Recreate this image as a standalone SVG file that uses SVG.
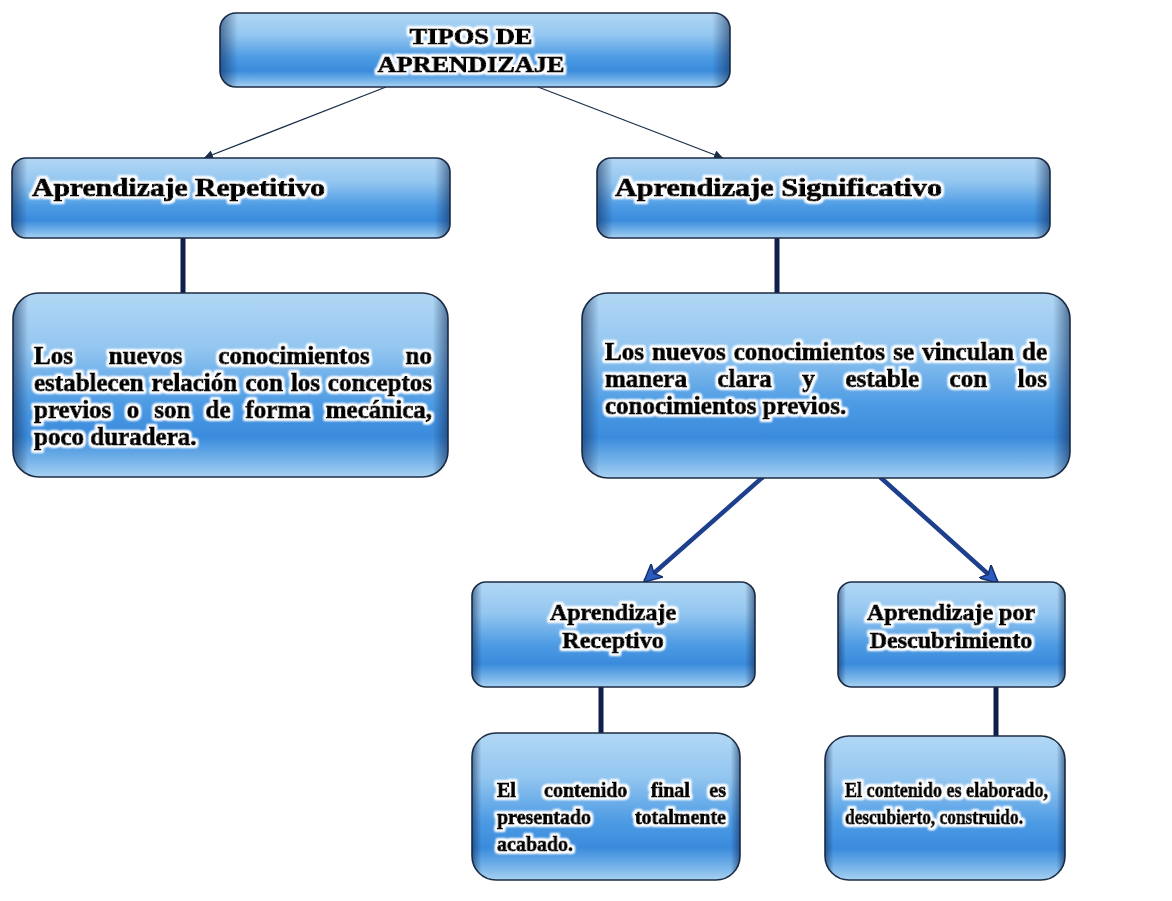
<svg xmlns="http://www.w3.org/2000/svg" width="1172" height="901" viewBox="0 0 1172 901">
<defs>
<linearGradient id="gv" x1="0" y1="0" x2="0" y2="1">
<stop offset="0" stop-color="#b2d7f4"/>
<stop offset="0.3" stop-color="#93c6f0"/>
<stop offset="0.6" stop-color="#4d9be4"/>
<stop offset="0.78" stop-color="#3a8bdc"/>
<stop offset="0.92" stop-color="#7ab6ea"/>
<stop offset="1" stop-color="#a8d1f2"/>
</linearGradient>
<linearGradient id="gh" x1="0" y1="0" x2="1" y2="0">
<stop offset="0" stop-color="#0d2550" stop-opacity="0.55"/>
<stop offset="0.035" stop-color="#0d2550" stop-opacity="0"/>
<stop offset="0.965" stop-color="#0d2550" stop-opacity="0"/>
<stop offset="1" stop-color="#0d2550" stop-opacity="0.55"/>
</linearGradient>
<filter id="glow" x="-10%" y="-40%" width="120%" height="180%">
<feMorphology in="SourceAlpha" operator="dilate" radius="1.6" result="d"/>
<feGaussianBlur in="d" stdDeviation="1.3" result="b"/>
<feFlood flood-color="#ffffff"/>
<feComposite in2="b" operator="in" result="w"/>
<feMerge><feMergeNode in="w"/><feMergeNode in="w"/><feMergeNode in="SourceGraphic"/></feMerge>
</filter>
<marker id="thin" viewBox="0 0 10 10" refX="10" refY="5" markerWidth="9" markerHeight="9" markerUnits="userSpaceOnUse" orient="auto">
<path d="M0,0 L10,5 L0,10 z" fill="#1b2f4a"/>
</marker>
<marker id="thick" viewBox="0 0 10 10" refX="9" refY="5" markerWidth="18" markerHeight="18" markerUnits="userSpaceOnUse" orient="auto">
<path d="M0,0 L10,5 L0,10 L2.5,5 z" fill="#2a5cc0" stroke="#16306e" stroke-width="0.8"/>
</marker>
<style>
.box{fill:url(#gv);stroke:#1c2d44;stroke-width:1.6}
.edge{fill:url(#gh);stroke:none}
.t{font-family:"Liberation Serif","Times New Roman",serif;font-weight:bold;fill:#000;stroke:#000;stroke-width:1;filter:url(#glow)}
.ti{font-size:26px}
.top{font-size:23px}
.d{font-size:25px}
.s{font-size:20px}
.thin{stroke:#1b2f4a;stroke-width:1.3;fill:none}
.vert{stroke:#0f1f4c;stroke-width:5;fill:none}
.diag{stroke:#1d3f8c;stroke-width:4.5;fill:none}
</style>
</defs>
<rect width="1172" height="901" fill="#ffffff"/>

<g id="connectors">
<line class="thin" x1="386" y1="87" x2="204" y2="158" marker-end="url(#thin)"/>
<line class="thin" x1="538" y1="87" x2="723" y2="158" marker-end="url(#thin)"/>
<line class="vert" x1="183" y1="238" x2="183" y2="293"/>
<line class="vert" x1="777" y1="238" x2="777" y2="293"/>
<line class="diag" x1="763" y1="477" x2="645" y2="581" marker-end="url(#thick)"/>
<line class="diag" x1="880" y1="477" x2="997" y2="582" marker-end="url(#thick)"/>
<line class="vert" x1="601" y1="687" x2="601" y2="733"/>
<line class="vert" x1="996" y1="687" x2="996" y2="736"/>
</g>

<g id="n-tipos">
<rect class="box" x="220" y="13" width="510" height="74" rx="16"/>
<rect class="edge" x="220" y="13" width="510" height="74" rx="16"/>
<text class="t top" x="471" y="44" text-anchor="middle" textLength="123" lengthAdjust="spacingAndGlyphs">TIPOS DE</text>
<text class="t top" x="471" y="72" text-anchor="middle" textLength="187" lengthAdjust="spacingAndGlyphs">APRENDIZAJE</text>
</g>

<g id="n-repetitivo">
<rect class="box" x="12" y="158" width="438" height="80" rx="14"/>
<rect class="edge" x="12" y="158" width="438" height="80" rx="14"/>
<text class="t ti" x="32" y="196" textLength="293" lengthAdjust="spacingAndGlyphs">Aprendizaje Repetitivo</text>
</g>

<g id="n-significativo">
<rect class="box" x="597" y="158" width="453" height="80" rx="14"/>
<rect class="edge" x="597" y="158" width="453" height="80" rx="14"/>
<text class="t ti" x="615" y="196" textLength="327" lengthAdjust="spacingAndGlyphs">Aprendizaje Significativo</text>
</g>

<g id="n-desc-repetitivo">
<rect class="box" x="13" y="293" width="435" height="184" rx="26"/>
<rect class="edge" x="13" y="293" width="435" height="184" rx="26"/>
<g class="t d">
<text x="34" y="364">Los</text><text x="108.8" y="364">nuevos</text><text x="218.3" y="364">conocimientos</text><text x="432" y="364" text-anchor="end">no</text>
<text x="34" y="391">establecen</text><text x="151.5" y="391">relación</text><text x="245.5" y="391">con</text><text x="290.9" y="391">los</text><text x="432" y="391" text-anchor="end">conceptos</text>
<text x="34" y="418">previos</text><text x="126.8" y="418">o</text><text x="154.3" y="418">son</text><text x="205.5" y="418">de</text><text x="245.5" y="418">forma</text><text x="432" y="418" text-anchor="end">mecánica,</text>
<text x="34" y="445">poco duradera.</text>
</g>
</g>

<g id="n-desc-significativo">
<rect class="box" x="582" y="293" width="488" height="185" rx="26"/>
<rect class="edge" x="582" y="293" width="488" height="185" rx="26"/>
<g class="t d">
<text x="605" y="360">Los</text><text x="652" y="360">nuevos</text><text x="733.7" y="360">conocimientos</text><text x="893.2" y="360">se</text><text x="922.2" y="360">vinculan</text><text x="1047" y="360" text-anchor="end">de</text>
<text x="605" y="387">manera</text><text x="717.5" y="387">clara</text><text x="802.3" y="387">y</text><text x="845.4" y="387">estable</text><text x="949.6" y="387">con</text><text x="1047" y="387" text-anchor="end">los</text>
<text x="605" y="414">conocimientos previos.</text>
</g>
</g>

<g id="n-receptivo">
<rect class="box" x="472" y="582" width="283" height="105" rx="14"/>
<rect class="edge" x="472" y="582" width="283" height="105" rx="14"/>
<text class="t" style="font-size:24px" x="613" y="620" text-anchor="middle">Aprendizaje</text>
<text class="t" style="font-size:24px" x="613" y="648" text-anchor="middle">Receptivo</text>
</g>

<g id="n-descubrimiento">
<rect class="box" x="838" y="582" width="227" height="105" rx="14"/>
<rect class="edge" x="838" y="582" width="227" height="105" rx="14"/>
<text class="t" style="font-size:24px" x="951" y="620" text-anchor="middle">Aprendizaje por</text>
<text class="t" style="font-size:24px" x="951" y="648" text-anchor="middle">Descubrimiento</text>
</g>

<g id="n-desc-receptivo">
<rect class="box" x="472" y="733" width="268" height="147" rx="24"/>
<rect class="edge" x="472" y="733" width="268" height="147" rx="24"/>
<g class="t s">
<text x="497" y="797">El</text><text x="544" y="797">contenido</text><text x="651" y="797">final</text><text x="726" y="797" text-anchor="end">es</text>
<text x="497" y="824">presentado</text><text x="726" y="824" text-anchor="end">totalmente</text>
<text x="497" y="851">acabado.</text>
</g>
</g>

<g id="n-desc-descubrimiento">
<rect class="box" x="825" y="736" width="240" height="144" rx="24"/>
<rect class="edge" x="825" y="736" width="240" height="144" rx="24"/>
<g class="t s">
<text x="845" y="797" textLength="203" lengthAdjust="spacingAndGlyphs">El contenido es elaborado,</text>
<text x="845" y="824" textLength="178" lengthAdjust="spacingAndGlyphs">descubierto, construido.</text>
</g>
</g>
</svg>
